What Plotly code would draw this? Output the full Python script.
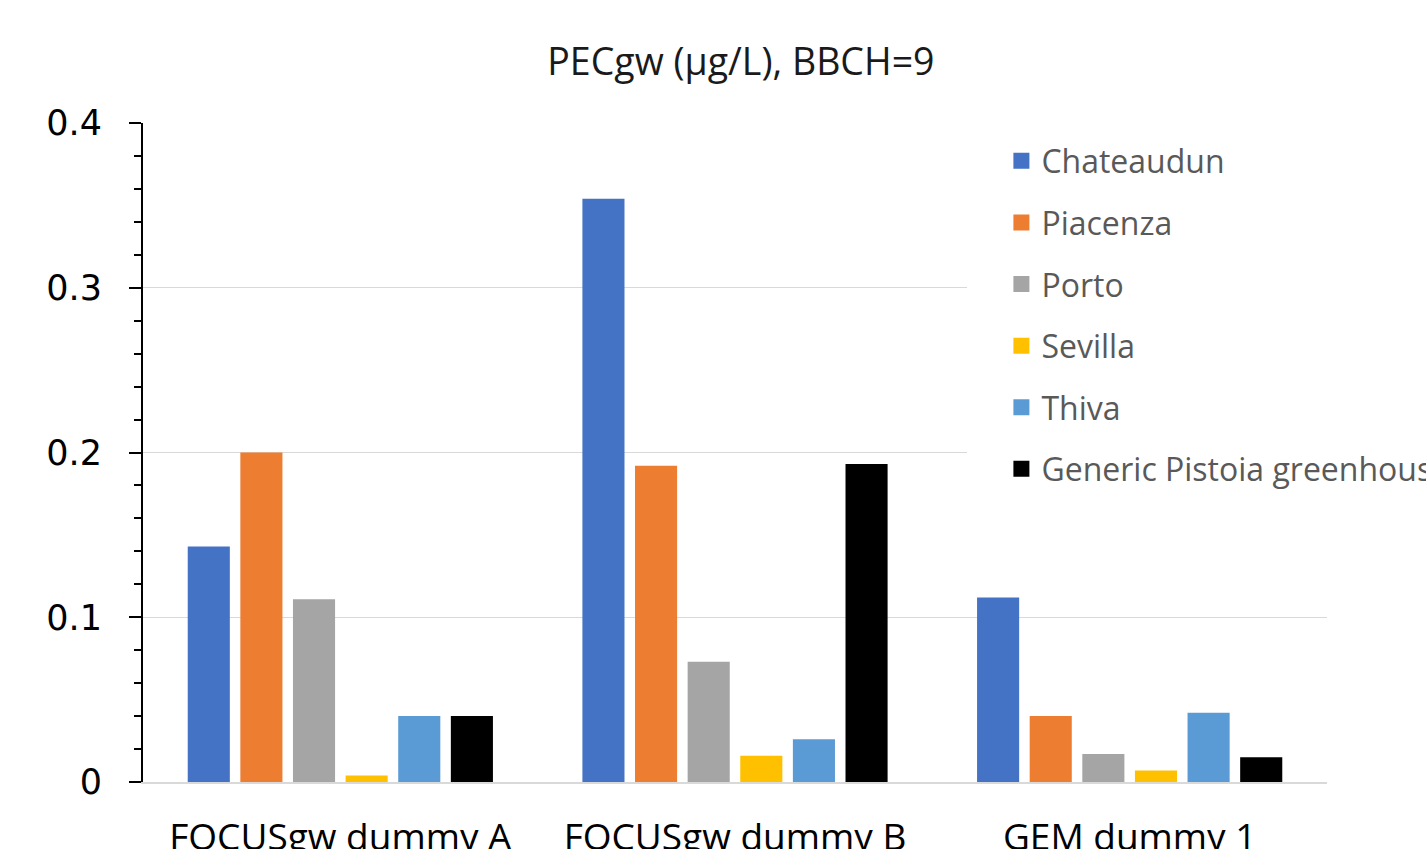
import plotly.graph_objects as go

# Scenario categories on the x axis
categories = ["FOCUSgw dummy A", "FOCUSgw dummy B", "GEM dummy 1"]

# PECgw values (µg/L) per location, one value per scenario
chateaudun = [0.143, 0.354, 0.112]
piacenza = [0.200, 0.192, 0.040]
porto = [0.111, 0.073, 0.017]
sevilla = [0.004, 0.016, 0.007]
thiva = [0.040, 0.026, 0.042]
pistoia = [0.040, 0.193, 0.015]

series = [
    ("Chateaudun", chateaudun, "#4472C4"),
    ("Piacenza", piacenza, "#ED7D31"),
    ("Porto", porto, "#A5A5A5"),
    ("Sevilla", sevilla, "#FFC000"),
    ("Thiva", thiva, "#5B9BD5"),
    ("Generic Pistoia greenhouse", pistoia, "#000000"),
]

y_ticks = [0, 0.1, 0.2, 0.3, 0.4]
y_tick_labels = ["0", "0.1", "0.2", "0.3", "0.4"]

fig = go.Figure()
for i, (name, vals, color) in enumerate(series):
    fig.add_trace(go.Bar(
        name=name, x=categories, y=vals,
        marker=dict(color=color, line=dict(width=0)),
        legendgroup=f"g{i}", showlegend=False,
    ))
    # legend entry with a larger square swatch
    fig.add_trace(go.Scatter(
        name=name, x=[None], y=[None], mode="markers",
        marker=dict(symbol="square", size=16, color=color, line=dict(width=0)),
        legendgroup=f"g{i}", showlegend=True, hoverinfo="skip",
    ))

# white panel behind the legend, hiding the gridlines under it
fig.add_shape(
    type="rect", xref="paper", yref="y",
    x0=(967 - 143) / 1184, x1=1.0, y0=0.174, y1=0.4,
    fillcolor="white", line=dict(width=0), layer="above",
)

fig.update_layout(
    width=1426, height=849,
    margin=dict(l=143, r=99, t=123, b=67, autoexpand=False),
    paper_bgcolor="white", plot_bgcolor="white",
    barmode="group", bargap=0.2, bargroupgap=0.2,
    title=dict(
        text="PECgw (µg/L), BBCH=9",
        x=0.505, xref="paper", xanchor="center",
        y=0.927, yref="container", yanchor="middle",
        font=dict(family="Open Sans", size=37.5, color="#1a1a1a"),
    ),
    legend=dict(
        x=0.725, xanchor="left", y=0.984, yanchor="top",
        bgcolor="rgba(0,0,0,0)", borderwidth=0,
        font=dict(family="Open Sans", size=32, color="#595959"),
        tracegroupgap=17, traceorder="grouped",
        itemsizing="trace",
    ),
    font=dict(family="Open Sans"),
)

fig.update_xaxes(
    showgrid=False, showline=True, linecolor="#D9D9D9", linewidth=1.5,
    ticks="", tickfont=dict(family="Open Sans", size=37, color="#000000"),
    ticklabelstandoff=22, automargin=False,
)
fig.update_yaxes(
    range=[0, 0.4], tickvals=y_ticks, ticktext=y_tick_labels,
    showgrid=True, gridcolor="#D9D9D9", gridwidth=1,
    showline=True, linecolor="#000000", linewidth=2,
    ticks="outside", ticklen=12, tickwidth=2, tickcolor="#000000",
    minor=dict(dtick=0.02, ticks="outside", ticklen=7, tickwidth=2,
               tickcolor="#000000", showgrid=False),
    tickfont=dict(family="DejaVu Sans", size=35, color="#000000"),
    ticklabelstandoff=20, zeroline=False, automargin=False,
)

fig.write_html("out.html")
